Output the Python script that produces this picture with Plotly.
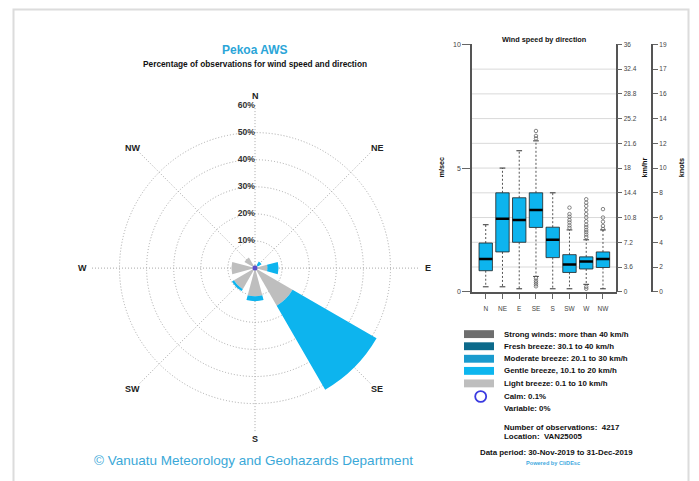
import math
import plotly.graph_objects as go

W, H = 699, 481

# ---- wind rose data (percent of observations) ----
directions = ["N", "NE", "E", "SE", "S", "SW", "W", "NW"]
bearings = [0, 45, 90, 135, 180, 225, 270, 315]
light_pct = [1.2, 1.2, 4.6, 16.0, 10.4, 9.0, 8.7, 4.5]
gentle_pct = [0.0, 1.6, 4.1, 35.8, 1.8, 0.8, 0.0, 0.0]
calm_pct = 0.1
variable_pct = 0
ring_pct = [10, 20, 30, 40, 50, 60]

# ---- wind speed by direction (m/s box statistics) ----
box_q1 = [0.85, 1.61, 2.00, 2.60, 1.38, 0.78, 0.92, 0.98]
box_med = [1.32, 2.95, 2.90, 3.31, 2.10, 1.10, 1.22, 1.32]
box_q3 = [1.97, 4.00, 3.80, 4.00, 2.61, 1.50, 1.41, 1.61]
whisk_lo = [0.20, 0.20, 0.12, 0.62, 0.12, 0.12, 0.30, 0.12]
whisk_hi = [2.71, 5.00, 5.70, 6.10, 4.00, 2.50, 2.10, 2.50]
outlier_dir = (["SE"] * 8 + ["SW"] * 7 + ["W"] * 15 + ["NW"] * 5)
outlier_val = ([6.20, 6.30, 6.50, 0.55, 0.45, 0.38, 0.30, 0.22]
               + [2.58, 2.68, 2.80, 2.90, 3.03, 3.14, 3.40]
               + [2.21, 2.31, 2.41, 2.50, 2.61, 2.71, 2.85, 3.00, 3.14, 3.30, 3.47, 3.60, 3.74, 0.20, 0.12]
               + [2.54, 2.66, 2.83, 3.00, 3.34])
ms_ticks = [0, 1, 2, 3, 4, 5, 6, 7, 8, 9, 10]
kmh_labels = ["0", "3.6", "7.2", "10.8", "14.4", "18", "21.6", "25.2", "28.8", "32.4", "36"]
knot_labels = ["0", "2", "4", "6", "8", "10", "12", "14", "16", "17", "19"]
grid_levels = [1, 2, 3, 4, 5, 6, 7, 8, 9]

# ---- legend / station info ----
legend_labels = ["Strong winds: more than 40 km/h", "Fresh breeze: 30.1 to 40 km/h",
                 "Moderate breeze: 20.1 to 30 km/h", "Gentle breeze, 10.1 to 20 km/h",
                 "Light breeze: 0.1 to 10 km/h"]
legend_colors = ["#6E6E6E", "#0C6A8B", "#1A9BCE", "#0DB6EF", "#BEBEBE"]
n_obs = 4217
location = "VAN25005"
period = "30-Nov-2019 to 31-Dec-2019"

FONT = "Liberation Sans, Arial, sans-serif"
LIGHT = "#BEBEBE"
GENTLE = "#0DB4EE"
TITLE_BLUE = "#2BA5D8"
GRID = "#A8A8A8"


def px(x):
    return x / W


def py(y):
    return 1 - y / H


fig = go.Figure()

# ---- wind rose ----
cx, cy, R60 = 255, 268, 165
rmax = 60.3
rpx = R60 * rmax / 60
fig.add_trace(go.Barpolar(r=light_pct, theta=bearings, width=[30] * len(bearings),
                          marker=dict(color=LIGHT, line=dict(width=0)),
                          subplot="polar", showlegend=False, hoverinfo="skip"))
fig.add_trace(go.Barpolar(r=gentle_pct, theta=bearings, width=[30] * len(bearings),
                          marker=dict(color=GENTLE, line=dict(width=0)),
                          subplot="polar", showlegend=False, hoverinfo="skip"))
fig.add_trace(go.Scatterpolar(r=[0], theta=[0], mode="markers",
                              marker=dict(size=5, color="#5A4FC8"),
                              subplot="polar", showlegend=False, hoverinfo="skip"))
fig.add_trace(go.Scatterpolar(r=ring_pct, theta=[0] * len(ring_pct), mode="text",
                              text=[f"<b>{p}%</b>" for p in ring_pct],
                              textposition="middle left",
                              textfont=dict(family=FONT, size=8.6, color="#333333"),
                              cliponaxis=False, subplot="polar", showlegend=False,
                              hoverinfo="skip"))

# ---- box plot of wind speed ----
bx, by, mx, my, wx, wy, kx, ky = [], [], [], [], [], [], [], []
hw, cap = 0.4, 0.17
for i in range(len(directions)):
    x = i + 1
    bx += [x - hw, x + hw, x + hw, x - hw, x - hw, None]
    by += [box_q1[i], box_q1[i], box_q3[i], box_q3[i], box_q1[i], None]
    mx += [x - hw, x + hw, None]
    my += [box_med[i], box_med[i], None]
    wx += [x, x, None, x, x, None]
    wy += [box_q3[i], whisk_hi[i], None, box_q1[i], whisk_lo[i], None]
    kx += [x - cap, x + cap, None, x - cap, x + cap, None]
    ky += [whisk_hi[i], whisk_hi[i], None, whisk_lo[i], whisk_lo[i], None]

fig.add_trace(go.Scatter(x=wx, y=wy, mode="lines",
                         line=dict(color="#555555", width=1, dash="2px,2px"),
                         showlegend=False, hoverinfo="skip"))
fig.add_trace(go.Scatter(x=kx, y=ky, mode="lines", line=dict(color="#333333", width=1),
                         showlegend=False, hoverinfo="skip"))
fig.add_trace(go.Scatter(x=bx, y=by, mode="lines", fill="toself", fillcolor=GENTLE,
                         line=dict(color="#222222", width=0.8),
                         showlegend=False, hoverinfo="skip"))
fig.add_trace(go.Scatter(x=mx, y=my, mode="lines", line=dict(color="#000000", width=2.5),
                         showlegend=False, hoverinfo="skip"))
fig.add_trace(go.Scatter(x=[directions.index(d) + 1 for d in outlier_dir], y=outlier_val,
                         mode="markers",
                         marker=dict(symbol="circle-open", size=3.5, color="#666666",
                                     line=dict(width=0.8)),
                         showlegend=False, hoverinfo="skip"))
fig.add_trace(go.Scatter(x=[1], y=[0], yaxis="y2", mode="markers", marker=dict(opacity=0),
                         showlegend=False, hoverinfo="skip"))
fig.add_trace(go.Scatter(x=[1], y=[0], yaxis="y3", mode="markers", marker=dict(opacity=0),
                         showlegend=False, hoverinfo="skip"))

shapes = []
for g in grid_levels:
    shapes.append(dict(type="line", xref="x domain", x0=0, x1=1, yref="y", y0=g, y1=g,
                       line=dict(color="#D9D9D9", width=1), layer="below"))

# legend swatches and calm marker
leg_y = [335, 347.3, 360, 372.3, 385]
for c, yy in zip(legend_colors, leg_y):
    shapes.append(dict(type="rect", xref="paper", yref="paper",
                       x0=px(464), x1=px(494), y0=py(yy + 4), y1=py(yy - 4),
                       fillcolor=c, line=dict(width=0)))
shapes.append(dict(type="circle", xref="paper", yref="paper",
                   x0=px(475.2), x1=px(486.2), y0=py(403.8), y1=py(392.8),
                   line=dict(color="#3A3AE0", width=1.8)))
# page frame
shapes.append(dict(type="rect", xref="paper", yref="paper",
                   x0=px(13.5), x1=px(688.5), y0=-0.02, y1=py(5.5),
                   line=dict(color="#DCDCDC", width=2)))

ann = []


def text(x, y, s, size, color="#111111", xanchor="center", angle=0):
    ann.append(dict(x=px(x), y=py(y), xref="paper", yref="paper", text=s, showarrow=False,
                    xanchor=xanchor, yanchor="middle", textangle=angle,
                    font=dict(family=FONT, size=size, color=color)))


# compass labels just outside the 60% ring
for d, b in zip(directions, bearings):
    a = math.radians(b)
    label_r = 175 if b == 0 else 173
    text(cx + label_r * math.sin(a), cy - label_r * math.cos(a), f"<b>{d}</b>", 9, "#222222")

text(255, 47, "<b>Pekoa AWS</b>", 12, TITLE_BLUE)
text(255, 61, "<b>Percentage of observations for wind speed and direction</b>", 8.3, "#111111")
text(254, 463, "© Vanuatu Meteorology and Geohazards Department", 13.5, "#3AA8D8")
text(544, 36, "<b>Wind speed by direction</b>", 7.3)
text(442, 166, "<b>m/sec</b>", 7.3, angle=-90)
text(645, 166, "<b>km/hr</b>", 7.3, angle=-90)
text(681.7, 166, "<b>knots</b>", 7.3, angle=-90)
for lab, yy in zip(legend_labels, leg_y):
    text(501.7, yy, f"<b>{lab}</b>", 7.9, xanchor="left")
text(501.7, 398.3, f"<b>Calm: {calm_pct}%</b>", 7.9, xanchor="left")
text(501.7, 410.5, f"<b>Variable: {variable_pct}%</b>", 7.9, xanchor="left")
text(501.7, 429.3, f"<b>Number of observations:  {n_obs}</b>", 7.9, xanchor="left")
text(501.7, 439.3, f"<b>Location:  {location}</b>", 7.9, xanchor="left")
text(556.7, 455, f"<b>Data period: {period}</b>", 7.9)
text(553.3, 466, "<b>Powered by CliDEsc</b>", 5.6, "#3FA9E0")

axis_common = dict(showgrid=False, zeroline=False, showline=True, linecolor="#555555",
                   linewidth=1.5, ticks="outside", tickcolor="#666666")

fig.update_layout(
    width=W, height=H, margin=dict(l=0, r=0, t=0, b=0),
    paper_bgcolor="white", plot_bgcolor="rgba(0,0,0,0)",
    font=dict(family=FONT),
    polar=dict(
        domain=dict(x=[px(cx - rpx), px(cx + rpx)], y=[1 - (cy + rpx) / H, 1 - (cy - rpx) / H]),
        bgcolor="rgba(0,0,0,0)", barmode="stack",
        radialaxis=dict(range=[0, rmax], tickvals=ring_pct, showticklabels=False, ticks="",
                        showline=False, gridcolor=GRID, griddash="1px,2px", gridwidth=1),
        angularaxis=dict(rotation=90, direction="clockwise", tickvals=bearings,
                         showticklabels=False, ticks="", showline=False,
                         gridcolor=GRID, griddash="1px,2px", gridwidth=1),
    ),
    xaxis=dict(domain=[px(472), px(616.7)], range=[0.18, 8.82], tickvals=list(range(1, 9)),
               ticktext=directions, ticklen=5, anchor="y", ticklabelstandoff=5,
               tickfont=dict(size=6.5, color="#444444"), **axis_common),
    yaxis=dict(domain=[py(292), py(41)], range=[0, 10], tickvals=[0, 5, 10], ticklen=8,
               anchor="x", tickfont=dict(size=7, color="#444444"), **axis_common),
    yaxis2=dict(overlaying="y", anchor="free", position=px(616.7), side="right",
                range=[0, 10], tickvals=ms_ticks, ticktext=kmh_labels, ticklen=5,
                tickfont=dict(size=6.5, color="#444444"), **axis_common),
    yaxis3=dict(overlaying="y", anchor="free", position=px(652.3), side="right",
                range=[0, 10], tickvals=ms_ticks, ticktext=knot_labels, ticklen=5,
                tickfont=dict(size=6.5, color="#444444"), **axis_common),
    shapes=shapes, annotations=ann,
)

fig.write_html("out.html")
